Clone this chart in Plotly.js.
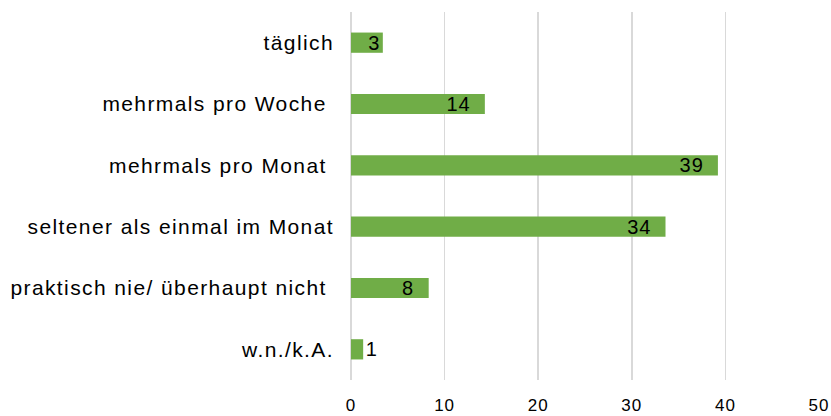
<!DOCTYPE html>
<html>
<head>
<meta charset="utf-8">
<script src="https://cdn.plot.ly/plotly-3.0.1.min.js"></script>
<style>
html,body{margin:0;padding:0;background:#fff;}
#chart .ytick text{letter-spacing:1.4px !important;}
#chart .xtick text{letter-spacing:1px !important;}
#chart .bartext text, #chart text.bartext{letter-spacing:1px !important;}
</style>
</head>
<body>
<div id="chart" style="width:831px;height:416px;"></div>
<script>
const categories = ["täglich", "mehrmals pro Woche\u00a0", "mehrmals pro Monat\u00a0", "seltener als einmal im Monat", "praktisch nie/ überhaupt nicht\u00a0", "w.n./k.A."];
const values = [3.4, 14.3, 39.2, 33.6, 8.3, 1.3];
const labelPositions = ["inside", "inside", "inside", "inside", "inside", "outside"];
const labelTemplates = ["%{x:.0f}", "%{x:.0f}\u00a0\u00a0", "%{x:.0f}\u00a0\u00a0", "%{x:.0f}\u00a0\u00a0", "%{x:.0f}\u00a0\u00a0", "%{x:.0f}"];

const FONT = "Liberation Sans, Arial, sans-serif";

Plotly.newPlot("chart", [{
  type: "bar",
  orientation: "h",
  y: categories,
  x: values,
  marker: {color: "#70AD47"},
  texttemplate: labelTemplates,
  textposition: labelPositions,
  insidetextanchor: "end",
  textangle: 0,
  constraintext: "none",
  textfont: {family: FONT, size: 20, color: "#000000"},
  insidetextfont: {family: FONT, size: 20, color: "#000000"},
  outsidetextfont: {family: FONT, size: 20, color: "#000000"},
  cliponaxis: false,
  hoverinfo: "none"
}], {
  width: 831, height: 416,
  margin: {l: 351, r: 12, t: 12, b: 36, pad: 0},
  paper_bgcolor: "#ffffff",
  plot_bgcolor: "#ffffff",
  bargap: 0.67,
  showlegend: false,
  font: {family: FONT, size: 16, color: "#000000"},
  xaxis: {
    range: [0, 50],
    dtick: 10,
    showgrid: true,
    gridcolor: "#d9d9d9",
    gridwidth: 1.5,
    zeroline: true,
    zerolinecolor: "#d9d9d9",
    zerolinewidth: 1.5,
    showline: false,
    ticks: "",
    ticklabelstandoff: 13,
    tickfont: {family: FONT, size: 17, color: "#000000"},
    fixedrange: true
  },
  yaxis: {
    autorange: "reversed",
    showgrid: false,
    zeroline: false,
    showline: false,
    ticks: "",
    ticklabelstandoff: 16,
    tickfont: {family: FONT, size: 21, color: "#000000"},
    fixedrange: true
  }
}, {staticPlot: true, displayModeBar: false});
</script>
</body>
</html>
